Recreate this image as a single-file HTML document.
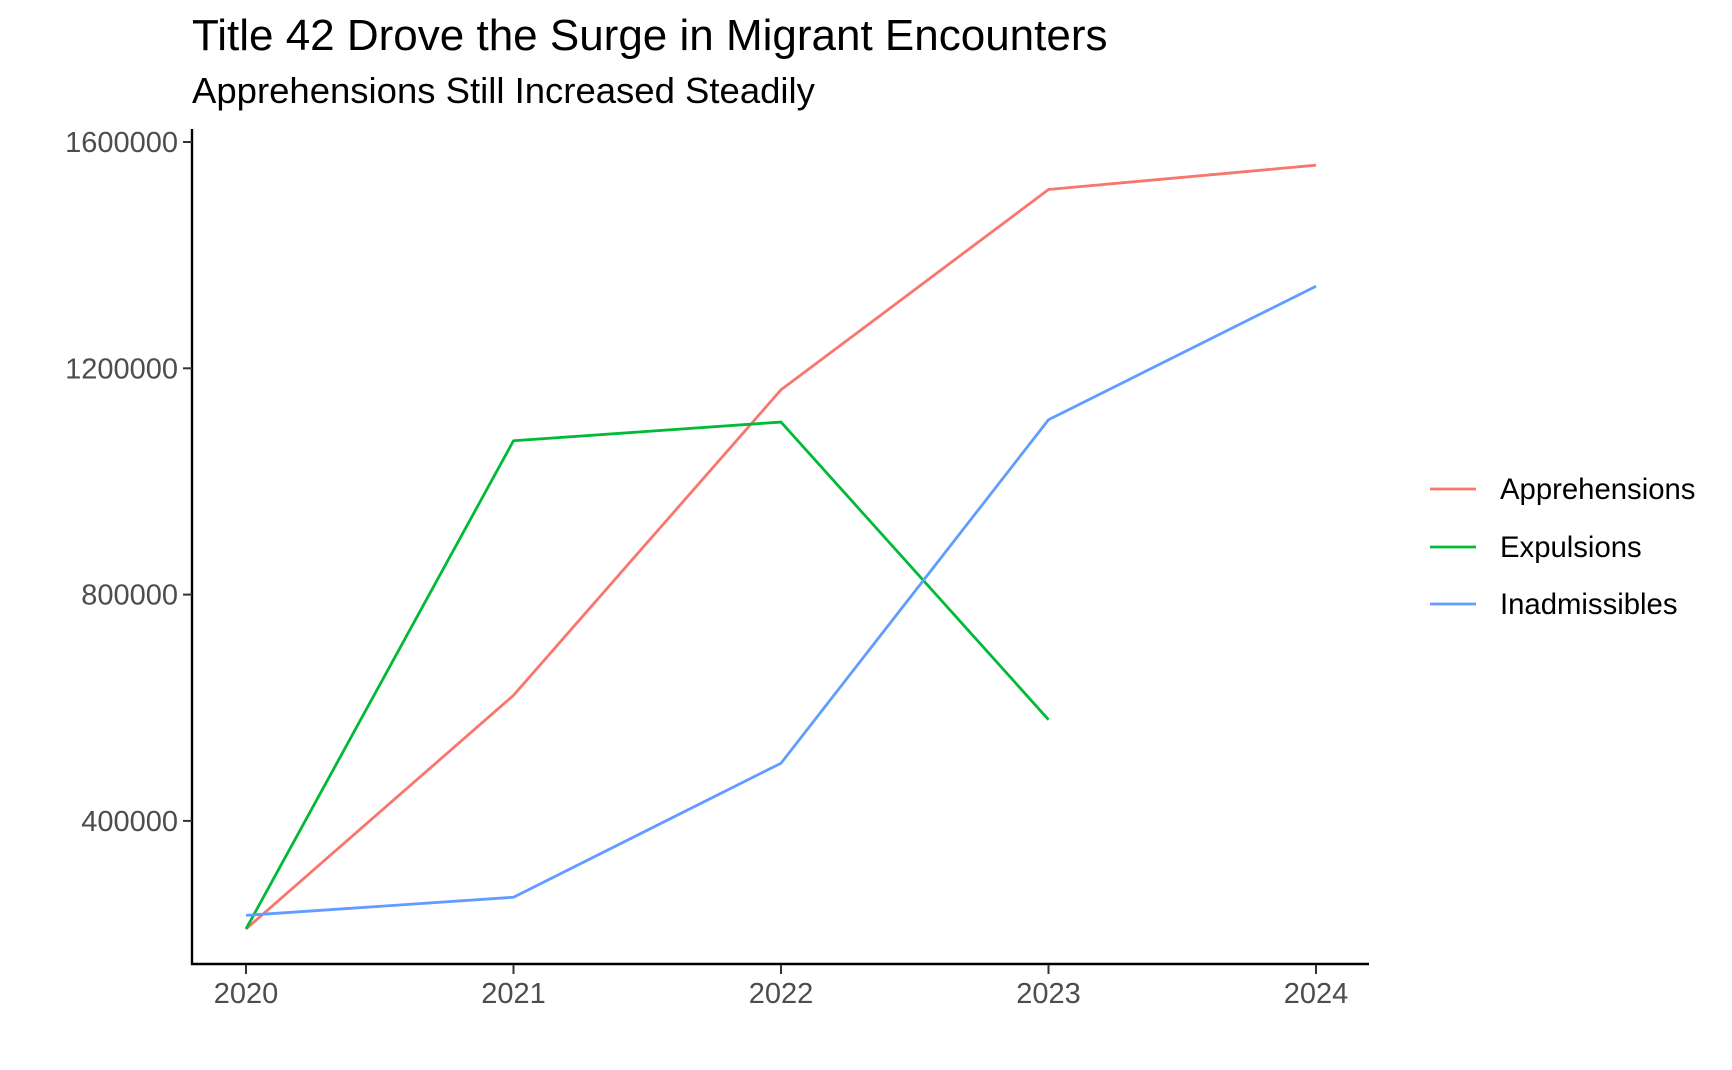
<!DOCTYPE html>
<html><head><meta charset="utf-8"><style>
html,body{margin:0;padding:0;background:#fff;}
svg{display:block;font-family:"Liberation Sans",Arial,sans-serif;}
</style></head><body>
<svg id="chart" width="1732" height="1070" viewBox="0 0 1732 1070">
<text x="192" y="50" font-size="44" fill="#000">Title 42 Drove the Surge in Migrant Encounters</text>
<text x="192" y="103" font-size="36.5" fill="#000">Apprehensions Still Increased Steadily</text>
<g id="axes"></g>
<g id="series"></g>
<g id="legend"></g>
</svg>
<script>
const years = [2020, 2021, 2022, 2023, 2024];
const apprehensions = [209000, 622000, 1162000, 1516000, 1559000];
const expulsions = [209000, 1072000, 1105000, 579000];
const inadmissibles = [233000, 265000, 502000, 1109000, 1345000];
const yTicks = [400000, 800000, 1200000, 1600000];
const seriesNames = ["Apprehensions", "Expulsions", "Inadmissibles"];

const NS = "http://www.w3.org/2000/svg";
const colors = ["#F8766D", "#00BA38", "#619CFF"];
function x(yr){ return 246 + (yr - 2020) * 267.5; }
function y(v){ return 142 + (1600000 - v) / 400000 * 226.3; }
function mk(tag, attrs, parent){ const e=document.createElementNS(NS,tag); for(const k in attrs) e.setAttribute(k,attrs[k]); parent.appendChild(e); return e; }

const axes = document.getElementById('axes');
let yl = mk('line',{x1:192,y1:129,x2:192,y2:965,stroke:'#000','stroke-width':2.4},axes);


let xl = mk('line',{x1:191,y1:964,x2:1369,y2:964,stroke:'#000','stroke-width':2.4},axes);


yTicks.forEach(v=>{
  const t = mk('line',{x1:183,y1:y(v),x2:192,y2:y(v),stroke:'#333','stroke-width':2},axes);
  
  
  const l = mk('text',{x:178,y:y(v)+10,'text-anchor':'end','font-size':29,fill:'#4d4d4d'},axes);
  l.textContent = v;
  
  
});
years.forEach(yr=>{
  const t = mk('line',{x1:x(yr),y1:965,x2:x(yr),y2:974,stroke:'#333','stroke-width':2},axes);
  
  
  const l = mk('text',{x:x(yr),y:1003,'text-anchor':'middle','font-size':29,fill:'#4d4d4d'},axes);
  l.textContent = yr;
  
  
});

const sg = document.getElementById('series');
[apprehensions, expulsions, inadmissibles].forEach((vals,i)=>{
  const pts = vals.map((v,j)=>x(years[j])+','+y(v)).join(' ');
  const p = mk('polyline',{points:pts,fill:'none',stroke:colors[i],'stroke-width':2.8,'stroke-linejoin':'round'},sg);
  
  
});

const lg = document.getElementById('legend');
const legY = [489, 547, 604];
seriesNames.forEach((n,i)=>{
  const l = mk('line',{x1:1430,y1:legY[i],x2:1476,y2:legY[i],stroke:colors[i],'stroke-width':2.8},lg);
  
  
  const t = mk('text',{x:1500,y:legY[i]+10,'font-size':29.3,fill:'#000'},lg);
  t.textContent = n;
  
  
});
</script>
</body></html>
